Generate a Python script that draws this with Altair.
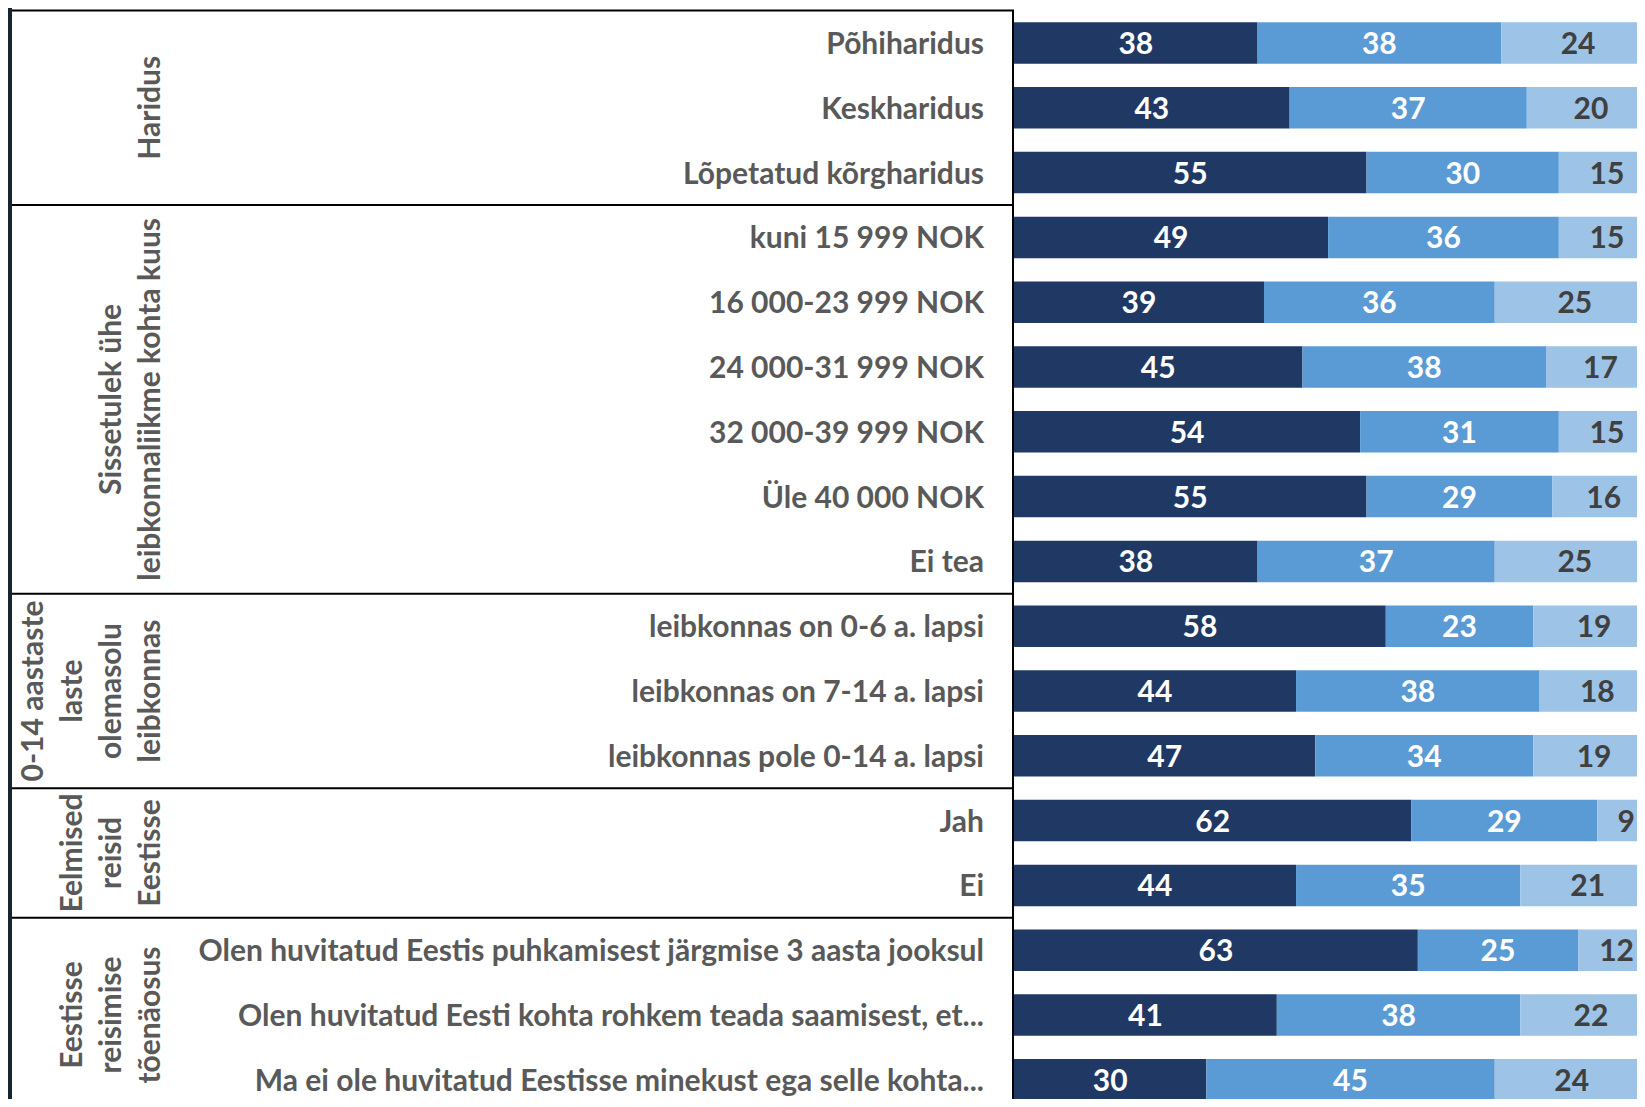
import altair as alt
import pandas as pd

# ---------------- data ----------------
row_labels = [
    "Põhiharidus\u00a0",
    "Keskharidus\u00a0",
    "Lõpetatud kõrgharidus",
    "kuni 15 999 NOK",
    "16 000-23 999 NOK",
    "24 000-31 999 NOK",
    "32 000-39 999 NOK",
    "Üle 40 000 NOK",
    "Ei tea",
    "leibkonnas on 0-6 a. lapsi",
    "leibkonnas on 7-14 a. lapsi",
    "leibkonnas pole 0-14 a. lapsi",
    "Jah",
    "Ei",
    "Olen huvitatud Eestis puhkamisest järgmise 3 aasta jooksul",
    "Olen huvitatud Eesti kohta rohkem teada saamisest, et...",
    "Ma ei ole huvitatud Eestisse minekust ega selle kohta...",
]
series_1 = [38, 43, 55, 49, 39, 45, 54, 55, 38, 58, 44, 47, 62, 44, 63, 41, 30]
series_2 = [38, 37, 30, 36, 36, 38, 31, 29, 37, 23, 38, 34, 29, 35, 25, 38, 45]
series_3 = [24, 20, 15, 15, 25, 17, 15, 16, 25, 19, 18, 19, 9, 21, 12, 22, 24]
series_names = ["s1", "s2", "s3"]
series_colors = ["#203864", "#5B9BD5", "#9DC3E6"]

group_labels = [
    "Haridus",
    "Sissetulek ühe\nleibkonnaliikme kohta kuus",
    "0-14 aastaste\nlaste\nolemasolu\nleibkonnas",
    "Eelmised\nreisid\nEestisse",
    "Eestisse\nreisimise\ntõenäosus",
]
group_sizes = [3, 6, 3, 2, 3]

# ---------------- tables ----------------
long_rows = []
for i, lab in enumerate(row_labels):
    for s, vals in zip(series_names, [series_1, series_2, series_3]):
        long_rows.append({"row": i, "label": lab, "seg": s, "value": vals[i]})
bars_df = pd.DataFrame(long_rows)

labels_df = pd.DataFrame({"row": list(range(len(row_labels))), "label": row_labels})

g_rows = []
start = 0
for g, n in zip(group_labels, group_sizes):
    g_rows.append({"group": g, "start": start, "end": start + n, "mid": start + n / 2})
    start += n
groups_df = pd.DataFrame(g_rows)
n_rows = len(row_labels)

FONT = "Lato"
FS = 30
GRAY = "#595959"
LH = 39

ys = alt.Scale(domain=[0, n_rows], range=[2.6, 2.6 + n_rows * 64.8], nice=False, zero=False)
xs = alt.Scale(domain=[0, 100], range=[1006, 1647], nice=False, zero=False)

base = (
    alt.Chart(bars_df)
    .transform_stack(
        stack="value", groupby=["row"], as_=["x0", "x1"],
        sort=[alt.SortField("seg", order="ascending")],
    )
    .transform_calculate(
        xm="(datum.x0 + datum.x1) / 2",
        ya="datum.row + 0.18",
        yb="datum.row + 0.82",
        yc="datum.row + 0.5",
    )
)

bars = base.mark_bar().encode(
    x=alt.X("x0:Q", scale=xs, axis=None),
    x2="x1:Q",
    y=alt.Y("ya:Q", scale=ys, axis=None),
    y2="yb:Q",
    color=alt.Color("seg:N", scale=alt.Scale(domain=series_names, range=series_colors), legend=None),
)

bar_text = base.mark_text(font=FONT, fontSize=FS, fontWeight="bold", baseline="middle",
                          align="center", dy=2).encode(
    x=alt.X("xm:Q", scale=xs, axis=None),
    y=alt.Y("yc:Q", scale=ys, axis=None),
    text=alt.Text("value:Q"),
    color=alt.condition(alt.datum.seg == "s3", alt.value("#404040"), alt.value("#FFFFFF")),
)

row_text = (
    alt.Chart(labels_df)
    .transform_calculate(yc="datum.row + 0.5")
    .mark_text(font=FONT, fontSize=FS, fontWeight="bold", align="right", baseline="middle",
               color=GRAY, dy=2)
    .encode(
        x=alt.value(976),
        y=alt.Y("yc:Q", scale=ys, axis=None),
        text="label:N",
    )
)

group_text = (
    alt.Chart(groups_df)
    .transform_calculate(
        nl="split(datum.group, '\\n').length",
        gx=f"158 - {LH} * (datum.nl - 1)",
    )
    .mark_text(font=FONT, fontSize=FS, fontWeight="bold", align="center", baseline="bottom",
               angle=270, lineBreak="\n", lineHeight=LH, color=GRAY)
    .encode(
        x=alt.X("gx:Q", scale=None, axis=None),
        y=alt.Y("mid:Q", scale=ys, axis=None),
        text="group:N",
    )
)

sep_rules = (
    alt.Chart(groups_df)
    .mark_rule(color="#000000", strokeWidth=2)
    .encode(
        y=alt.Y("start:Q", scale=ys, axis=None),
        x=alt.value(4),
        x2=alt.value(1006),
    )
)

vert_rule = (
    alt.Chart(pd.DataFrame({"top": [0], "bottom": [n_rows]}))
    .mark_rule(color="#000000", strokeWidth=2)
    .encode(
        x=alt.value(1005),
        y=alt.Y("top:Q", scale=ys, axis=None),
        y2="bottom:Q",
    )
)

strip = (
    alt.Chart(pd.DataFrame({"a": [0]}))
    .mark_rect(color="#17252F")
    .encode(x=alt.value(0), x2=alt.value(4), y=alt.value(0), y2=alt.value(1091))
)

chart = (
    alt.layer(strip, bars, bar_text, row_text, group_text, sep_rules, vert_rule)
    .properties(width=1629, height=1091, padding=0, autosize=alt.AutoSizeParams(type="none"),
                background="#FFFFFF")
    .configure_view(strokeWidth=0)
)

chart.save("out.html", embed_options={"renderer": "svg", "actions": False})
